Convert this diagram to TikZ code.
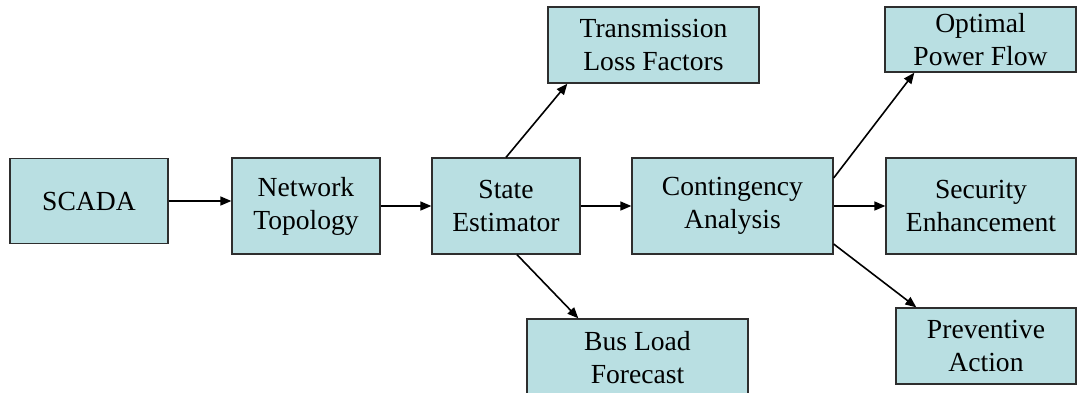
\documentclass[tikz,border=0pt]{standalone}
\usepackage{fontspec}
\setmainfont{Liberation Serif}
\usetikzlibrary{calc,arrows.meta}

\definecolor{boxfill}{HTML}{B9DFE2}
\definecolor{boxline}{HTML}{2E2E2E}

\tikzset{
  block/.style={draw=boxline, fill=boxfill, line width=1.3pt, inner sep=0pt,
    align=center, font=\fontsize{27.6}{33}\selectfont},
  flow/.style={line width=1.6pt, -{Triangle[length=11pt,width=9pt]}}
}

\begin{document}
\begin{tikzpicture}[x=1pt,y=-1pt]
  \useasboundingbox (0,0) rectangle (1077,392);
  \clip (0,0) rectangle (1077,392);

  % main chain
  \node[block, minimum width=158pt, minimum height=85pt] (scada) at (89,201) {SCADA};
  \node[block, minimum width=148pt, minimum height=96pt] (net) at (306,206) {Network\\Topology};
  \node[block, minimum width=148pt, minimum height=96pt] (state) at (506,206) {State\\Estimator};
  \node[block, minimum width=201pt, minimum height=96pt] (cont) at (732.5,206) {Contingency\\Analysis};
  \node[block, minimum width=190pt, minimum height=96pt] (sec) at (981,206) {Security\\Enhancement};

  % branches
  \node[block, minimum width=211pt, minimum height=76pt] (tlf) at (653.5,45) {Transmission\\Loss Factors};
  \node[block, minimum width=221pt, minimum height=78pt] (bus) at (637.5,358) {Bus Load\\Forecast};
  \node[block, minimum width=191pt, minimum height=65pt] (opf) at (980.5,39.5) {Optimal\\Power Flow};
  \node[block, minimum width=180pt, minimum height=76pt] (prev) at (986,346) {Preventive\\Action};

  % connectors
  \draw[flow] (scada.east) -- (scada.east -| net.west);
  \draw[flow] (net.east) -- (state.west);
  \draw[flow] (state.east) -- (cont.west);
  \draw[flow] (cont.east) -- (sec.west);
  \draw[flow] (state.north) -- ($(tlf.south west)+(20,0)$);
  \draw[flow] ($(state.south)+(11,0)$) -- ($(bus.north west)+(52,0)$);
  \draw[flow] ($(cont.east)+(0,-28)$) -- ($(opf.south west)+(30,0)$);
  \draw[flow] ($(cont.east)+(0,38)$) -- ($(prev.north west)+(21,0)$);
\end{tikzpicture}
\end{document}
